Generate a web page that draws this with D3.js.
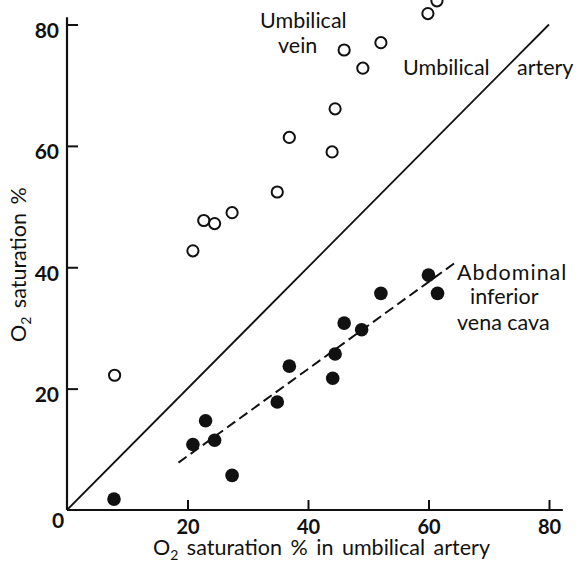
<!DOCTYPE html>
<html>
<head>
<meta charset="utf-8">
<script src="https://cdn.jsdelivr.net/npm/d3@7"></script>
<style>
  html, body { margin: 0; padding: 0; background: #fff; }
  svg { display: block; font-family: "Lato", "DejaVu Sans", sans-serif; }
</style>
</head>
<body>
<svg id="chart" width="582" height="562"></svg>
<script>
// Umbilical vein O2 saturation vs umbilical artery (open circles)
const veinArtery = [7.9, 20.9, 22.7, 24.5, 27.4, 34.9, 36.9, 44.0, 44.5, 46.0, 49.1, 52.1, 59.9, 61.4];
const veinSat    = [22.2, 42.7, 47.7, 47.2, 49.0, 52.4, 61.4, 59.0, 66.1, 75.8, 72.8, 77.0, 81.8, 83.9];

// Abdominal inferior vena cava O2 saturation vs umbilical artery (filled circles)
const ivcArtery = [7.8, 20.9, 23.0, 24.5, 27.4, 34.9, 36.9, 44.1, 44.5, 46.0, 48.9, 52.1, 60.0, 61.5];
const ivcSat    = [1.8, 10.8, 14.7, 11.5, 5.7, 17.8, 23.7, 21.7, 25.7, 30.8, 29.7, 35.7, 38.7, 35.7];

// Line of identity and fitted regression line for the vena cava
const identityX = [0, 80];
const identityY = [0, 80];
const fitX = [18.5, 64.5];
const fitY = [7.8, 40.8];

const xTicks = [20, 40, 60, 80];
const yTicks = [20, 40, 60, 80];

const svg = d3.select("#chart");
const x = d3.scaleLinear().domain([0, 80]).range([67, 549]);
const y = d3.scaleLinear().domain([0, 80]).range([510, 24.5]);

const ink = "#111";

// Axes with inward ticks
const xAxis = d3.axisBottom(x).tickValues(xTicks).tickSize(-10).tickFormat(d3.format("d"));
const yAxis = d3.axisLeft(y).tickValues(yTicks).tickSize(-11).tickFormat(d3.format("d"));

const gx = svg.append("g").attr("transform", `translate(0,${y(0)})`).call(xAxis);
const gy = svg.append("g").attr("transform", `translate(${x(0)},0)`).call(yAxis);
[gx, gy].forEach(g => {
  g.select(".domain").remove();
  g.attr("font-family", null).attr("font-size", null);
  g.selectAll(".tick line").attr("stroke", ink).attr("stroke-width", 2);
  g.selectAll(".tick text").attr("fill", ink).style("font-size", "21px").style("font-weight", "700");
});
gx.selectAll(".tick text").style("font-size", "20px").attr("y", 24).attr("dy", null);
gy.selectAll(".tick text").attr("x", -8).attr("dy", null).attr("y", 13);

// Axis lines extend slightly beyond the last tick
svg.append("line").attr("x1", x(0)).attr("x2", x(82.3)).attr("y1", y(0)).attr("y2", y(0))
  .attr("stroke", ink).attr("stroke-width", 2.2);
svg.append("line").attr("x1", x(0)).attr("x2", x(0)).attr("y1", y(0)).attr("y2", y(81.2))
  .attr("stroke", ink).attr("stroke-width", 2.2);

// Origin label
svg.append("text").attr("x", x(0) - 9).attr("y", y(0) + 18).attr("text-anchor", "middle")
  .attr("fill", ink).style("font-size", "21px").style("font-weight", "700").text("0");

// Identity line
const line = d3.line().x(d => x(d[0])).y(d => y(d[1]));
svg.append("path").datum(d3.zip(identityX, identityY)).attr("d", line)
  .attr("fill", "none").attr("stroke", ink).attr("stroke-width", 1.8);

// Regression line (dashed)
svg.append("path").datum(d3.zip(fitX, fitY)).attr("d", line)
  .attr("fill", "none").attr("stroke", ink).attr("stroke-width", 2)
  .attr("stroke-dasharray", "10,5");

// Open circles: umbilical vein
svg.append("g").selectAll("circle").data(d3.zip(veinArtery, veinSat)).join("circle")
  .attr("cx", d => x(d[0])).attr("cy", d => y(d[1])).attr("r", 5.6)
  .attr("fill", "#fff").attr("stroke", ink).attr("stroke-width", 2);

// Filled circles: inferior vena cava
svg.append("g").selectAll("circle").data(d3.zip(ivcArtery, ivcSat)).join("circle")
  .attr("cx", d => x(d[0])).attr("cy", d => y(d[1])).attr("r", 6.8)
  .attr("fill", ink);

// Series labels
const label = (s, lx, ly) => svg.append("text").attr("x", lx).attr("y", ly)
  .attr("fill", ink).style("font-size", "21.5px").text(s);
label("Umbilical", 260, 28);
label("vein", 278, 53);
label("Umbilical", 403, 75);
label("artery", 517, 75);
label("Abdominal", 457, 280).style("letter-spacing", "1px");
label("inferior", 470, 304);
label("vena cava", 457, 330);

// Axis titles
const title = (sel) => {
  sel.attr("fill", ink).style("font-size", "21.5px").style("word-spacing", "3px");
  sel.append("tspan").text("O");
  sel.append("tspan").attr("dy", 5).style("font-size", "14px").text("2");
  return sel;
};
const xt = title(svg.append("text").attr("x", 153).attr("y", 555));
xt.append("tspan").attr("dy", -5).text(" saturation % in umbilical artery");

const yt = title(svg.append("text").attr("transform", "translate(26,342) rotate(-90)"));
yt.append("tspan").attr("dy", -5).text(" saturation %");
</script>
</body>
</html>
